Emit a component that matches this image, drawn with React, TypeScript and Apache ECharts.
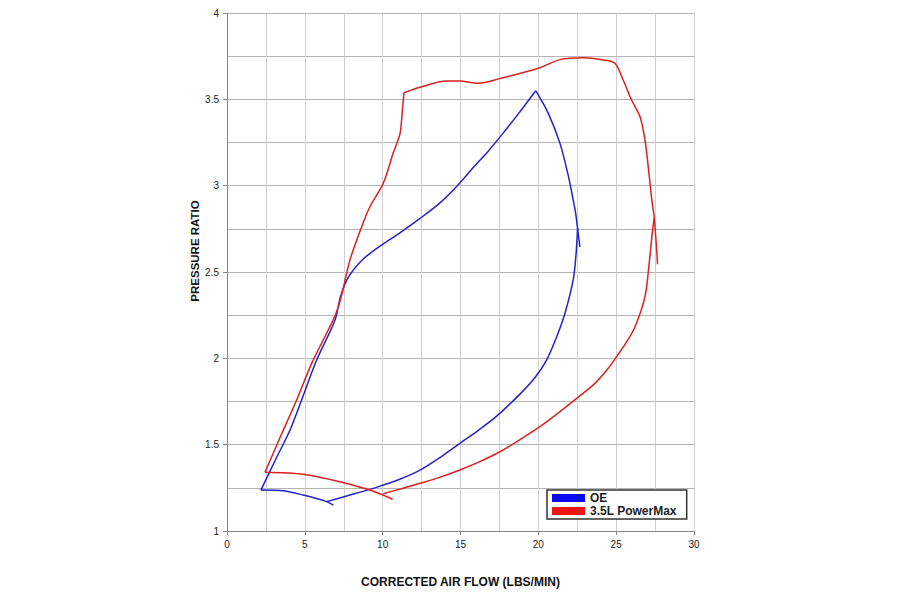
import React, { useEffect, useRef } from "react";
import * as echarts from "echarts";

// Corrected air flow (lbs/min) vs pressure ratio, one array per line segment.
const oeSurgeLow: [number, number][] = [
  [6.83, 1.15], [6.4, 1.17], [4.9, 1.208], [3.62, 1.233], [2.18, 1.237],
];
const oeSurge: [number, number][] = [
  [2.18, 1.237], [3.1, 1.41], [4.05, 1.585], [4.8, 1.76], [5.76, 1.99],
  [6.94, 2.222], [7.3, 2.36], [7.8, 2.47], [8.75, 2.575], [9.83, 2.65],
  [11.11, 2.727], [12.4, 2.81], [13.68, 2.9], [14.75, 2.995], [15.82, 3.105],
  [16.78, 3.2], [17.7, 3.3], [18.75, 3.42], [19.83, 3.55],
];
const oeRight: [number, number][] = [
  [19.83, 3.55], [20.64, 3.419], [21.39, 3.245], [21.92, 3.06], [22.24, 2.917],
  [22.4, 2.84], [22.52, 2.753], [22.67, 2.646],
];
const oeChoke: [number, number][] = [
  [22.52, 2.753], [22.42, 2.6], [22.24, 2.454], [21.71, 2.261], [21.18, 2.125],
  [20.53, 1.99], [19.8, 1.89], [18.9, 1.8], [17.32, 1.665], [16.1, 1.58],
  [14.96, 1.508], [13.7, 1.427], [12.4, 1.353], [11.1, 1.3], [9.83, 1.26],
  [9.18, 1.241], [7.69, 1.203], [6.4, 1.17],
];

const pmSurgeLow: [number, number][] = [
  [10.64, 1.184], [9.18, 1.237], [7.47, 1.28], [4.9, 1.328], [2.44, 1.34],
];
const pmSurge: [number, number][] = [
  [2.44, 1.34], [3.4, 1.54], [4.48, 1.76], [5.44, 1.971], [6.4, 2.145],
  [7.0, 2.26], [7.35, 2.36], [7.9, 2.57], [8.65, 2.762], [9.18, 2.878],
  [10.04, 3.014], [10.68, 3.19], [11.11, 3.3], [11.25, 3.42], [11.37, 3.538],
];
const pmTopRight: [number, number][] = [
  [11.37, 3.538], [12.4, 3.57], [14.11, 3.606], [14.96, 3.606], [16.14, 3.593],
  [17.53, 3.62], [20.0, 3.68], [21.39, 3.73], [22.88, 3.741], [24.17, 3.728],
  [24.92, 3.709], [25.45, 3.612], [25.99, 3.496], [26.53, 3.4], [26.85, 3.264],
  [27.06, 3.11], [27.28, 2.925], [27.45, 2.81], [27.66, 2.545],
];
const pmChoke: [number, number][] = [
  [27.45, 2.81], [27.34, 2.743], [27.12, 2.55], [26.85, 2.357], [26.2, 2.18],
  [25.6, 2.085], [25.03, 2.01], [24.4, 1.932], [23.6, 1.852], [22.46, 1.768],
  [21.3, 1.685], [20.1, 1.604], [18.8, 1.528], [17.53, 1.459], [16.2, 1.4],
  [14.96, 1.353], [13.7, 1.312], [12.4, 1.276], [11.2, 1.245], [10.04, 1.216],
];

const seriesNames = ["OE", "3.5L PowerMax"];
const seriesColors = ["#2323c8", "#dc2020"];
const legendColors = ["#0a0af0", "#ee1414"];

const FONT = "'Liberation Sans', Arial, sans-serif";

function segment(name: string, idx: number, data: [number, number][]) {
  return {
    type: "line",
    name,
    data,
    smooth: 0.3,
    showSymbol: false,
    symbol: "none",
    itemStyle: { color: legendColors[idx] },
    lineStyle: { color: seriesColors[idx], width: 1.5 },
    z: 3,
  };
}

export default function App() {
  const ref = useRef<HTMLDivElement>(null);

  useEffect(() => {
    if (!ref.current) return;
    const chart = echarts.init(ref.current, undefined, { renderer: "svg" });
    chart.setOption({
      animation: false,
      backgroundColor: "#ffffff",
      grid: { left: 227, right: 206, top: 13, bottom: 69 },
      legend: {
        data: seriesNames,
        orient: "vertical",
        left: 547,
        top: 490,
        icon: "rect",
        itemWidth: 33,
        itemHeight: 8,
        itemGap: 1,
        padding: [2, 10, 2, 5],
        borderColor: "#333",
        borderWidth: 1.5,
        backgroundColor: "#fff",
        textStyle: { fontFamily: FONT, fontWeight: "bold", fontSize: 12, color: "#222", lineHeight: 12 },
      },
      xAxis: {
        type: "value",
        min: 0,
        max: 30,
        interval: 5,
        name: "CORRECTED AIR FLOW (LBS/MIN)",
        nameLocation: "middle",
        nameGap: 45,
        nameTextStyle: { fontFamily: FONT, fontWeight: "bold", fontSize: 12, color: "#111" },
        axisLine: { show: true, lineStyle: { color: "#888", width: 1 } },
        axisTick: { show: true, length: 4, lineStyle: { color: "#888" } },
        axisLabel: { fontFamily: FONT, fontSize: 10, color: "#222", margin: 8 },
        splitLine: { show: true, lineStyle: { color: "#cfcfcf", width: 1 } },
        minorTick: { show: false, splitNumber: 2 },
        minorSplitLine: { show: true, lineStyle: { color: "#cfcfcf", width: 1 } },
      },
      yAxis: {
        type: "value",
        min: 1,
        max: 4,
        interval: 0.5,
        axisLine: { show: true, lineStyle: { color: "#888", width: 1 } },
        axisTick: { show: true, length: 4, lineStyle: { color: "#888" } },
        axisLabel: { fontFamily: FONT, fontSize: 10, color: "#222", margin: 8 },
        splitLine: { show: true, lineStyle: { color: "#b4b4b4", width: 1 } },
        minorTick: { show: false, splitNumber: 2 },
        minorSplitLine: { show: true, lineStyle: { color: "#b4b4b4", width: 1 } },
      },
      graphic: [
        {
          type: "text",
          x: 195,
          y: 251,
          rotation: Math.PI / 2,
          style: {
            text: "PRESSURE RATIO",
            fontFamily: FONT,
            fontWeight: "bold",
            fontSize: 11.5,
            fill: "#111",
            align: "center",
            verticalAlign: "middle",
          },
        },
      ],
      series: [
        segment(seriesNames[0], 0, oeSurgeLow),
        segment(seriesNames[0], 0, oeSurge),
        segment(seriesNames[0], 0, oeRight),
        segment(seriesNames[0], 0, oeChoke),
        segment(seriesNames[1], 1, pmSurgeLow),
        segment(seriesNames[1], 1, pmSurge),
        segment(seriesNames[1], 1, pmTopRight),
        segment(seriesNames[1], 1, pmChoke),
      ],
    });
    return () => chart.dispose();
  }, []);

  return <div ref={ref} style={{ width: 900, height: 600, position: "fixed", left: 0, top: 0 }} />;
}
